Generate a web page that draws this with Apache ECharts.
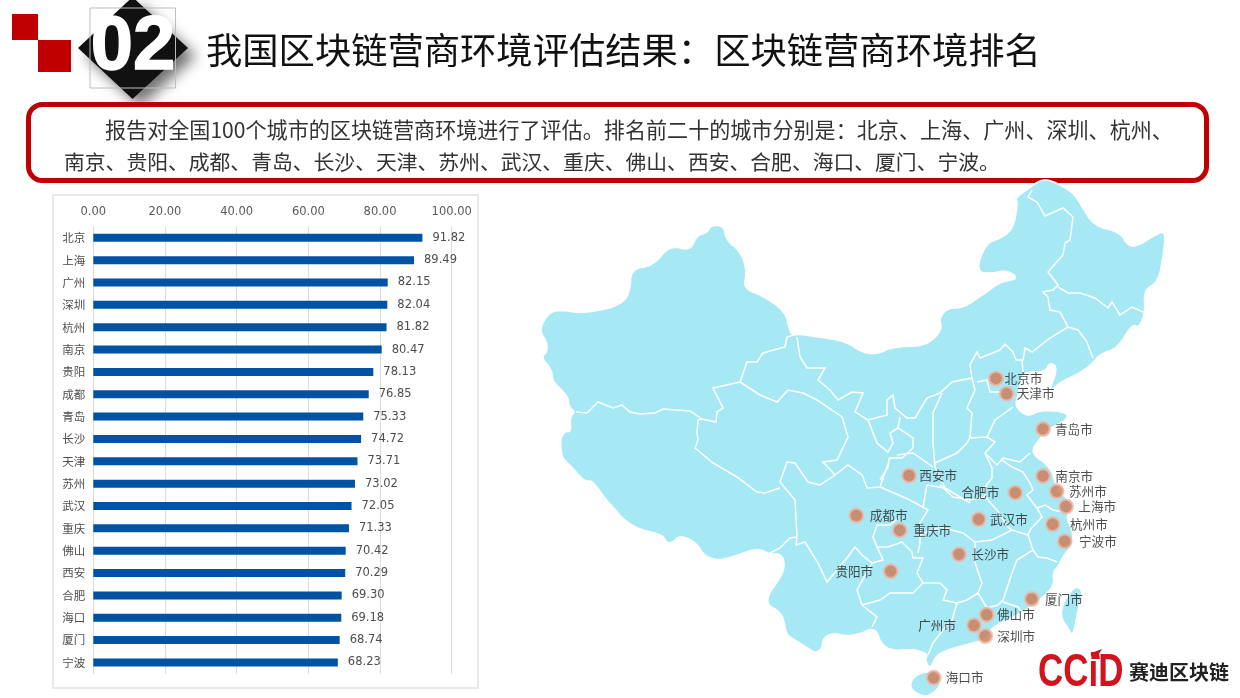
<!DOCTYPE html>
<html>
<head>
<meta charset="utf-8">
<title>区块链营商环境排名</title>
<script src="https://cdn.jsdelivr.net/npm/echarts@6/dist/echarts.min.js"></script>
<style>
  html,body{margin:0;padding:0;background:#fff}
  #chart{width:1240px;height:698px}
</style>
</head>
<body>
<div id="chart"></div>
<script>
// bar chart data
var categories = ['北京','上海','广州','深圳','杭州','南京','贵阳','成都','青岛','长沙','天津','苏州','武汉','重庆','佛山','西安','合肥','海口','厦门','宁波']
var scores = [91.82,89.49,82.15,82.04,81.82,80.47,78.13,76.85,75.33,74.72,73.71,73.02,72.05,71.33,70.42,70.29,69.30,69.18,68.74,68.23]

// cities on the map, read in the units of the traced base map below
var cityNames = ['北京市','天津市','青岛市','西安市','成都市','重庆市','长沙市','贵阳市','广州市','海口市','南京市','苏州市','上海市','杭州市','宁波市','合肥市','武汉市','厦门市','佛山市','深圳市']
var cityX = [996,1006.7,1043,909,856.3,899.7,959,890.7,974,933.7,1043,1056.7,1066,1052.7,1064.7,1015.3,978.7,1031.7,986.7,985.3]
var cityY = [378.5,393.7,429,475.5,515.5,530.3,554.3,571.3,625.3,677.7,476,491.3,506.5,524.3,541.3,492.7,519.3,599,614.7,636]

var titleText = '我国区块链营商环境评估结果：区块链营商环境排名'
var introLine1 = '报告对全国100个城市的区块链营商环境进行了评估。排名前二十的城市分别是：北京、上海、广州、深圳、杭州、'
var introLine2 = '南京、贵阳、成都、青岛、长沙、天津、苏州、武汉、重庆、佛山、西安、合肥、海口、厦门、宁波。'

// base map outline, hand traced
var mainland = [[539,330],[549,312],[563,310],[577,313],[597,311],[620,305],[630,293],[631,269],[653,266],[670,245],[690,251],[697,235],[707,233],[711,225],[724,226],[726,240],[741,252],[747,272],[743,288],[763,296],[785,311],[790,332],[793,335],[798,334],[818,337],[845,341],[863,353],[878,354],[892,347],[923,346],[935,338],[942,328],[939,318],[948,308],[963,308],[987,292],[1000,282],[1019,279],[1007,270],[993,273],[980,273],[978,263],[987,243],[997,240],[1013,230],[1018,203],[1015,198],[1028,189],[1040,180],[1051,180],[1073,192],[1081,205],[1094,226],[1120,232],[1128,246],[1138,246],[1153,236],[1166,230],[1163,258],[1158,282],[1144,290],[1145,313],[1139,328],[1132,324],[1118,348],[1100,354],[1093,363],[1080,373],[1060,382],[1048,394],[1058,368],[1050,362],[1045,372],[1023,372],[1020,385],[1018,395],[1015,407],[1028,417],[1040,410],[1068,412],[1066,421],[1050,428],[1040,438],[1030,453],[1051,467],[1056,487],[1066,498],[1074,508],[1068,513],[1067,519],[1073,533],[1073,545],[1063,556],[1058,567],[1053,572],[1054,586],[1041,599],[1020,614],[990,628],[988,639],[973,643],[953,648],[940,653],[935,658],[930,669],[925,660],[928,654],[913,649],[893,651],[881,644],[877,631],[870,629],[860,634],[847,636],[833,633],[823,638],[822,649],[815,653],[808,648],[793,639],[786,634],[784,620],[779,611],[767,605],[769,593],[779,580],[785,567],[782,554],[770,554],[757,548],[730,558],[717,560],[704,556],[697,543],[680,535],[672,543],[667,543],[663,536],[655,533],[636,528],[622,518],[614,508],[607,501],[592,480],[585,482],[569,464],[562,458],[560,440],[565,431],[571,432],[570,417],[575,412],[569,407],[568,396],[552,381],[552,370],[541,357],[547,352],[547,342]]
var taiwan = [[1077,586],[1083,592],[1078,610],[1073,637],[1068,628],[1061,618],[1062,605],[1071,591]]
var hainan = [[925,671],[912,678],[910,689],[922,696],[929,696],[941,686],[939,674]]

// province borders
var borderLines = [
  [[576,412],[587,413],[598,402],[613,408],[622,405],[630,412],[640,414],[655,413],[663,409],[690,411],[702,419],[716,422],[717,412],[723,408],[713,388],[740,382],[747,362],[757,362],[763,353],[785,347],[787,337],[797,334]],
  [[702,419],[698,420],[697,433],[698,440],[695,448],[713,463],[737,477],[757,492],[765,493],[780,488]],
  [[780,482],[787,462],[795,463],[808,482],[820,485],[835,475],[848,465],[862,475],[867,488],[880,487]],
  [[740,382],[760,395],[777,402],[788,390],[803,393],[817,400],[842,417],[848,437],[837,460],[823,462],[835,475]],
  [[780,482],[795,500],[797,537],[790,538],[780,548],[770,553]],
  [[797,537],[796,545],[805,542],[818,563],[827,582],[847,558],[855,547],[862,555],[872,563],[857,590],[862,605]],
  [[862,605],[880,600],[890,593],[913,593],[923,583],[917,573],[923,558],[913,558],[912,552],[902,542],[888,547],[877,547],[873,537],[877,525],[890,525],[898,518]],
  [[872,563],[883,560],[877,547]],
  [[880,487],[887,490],[910,500],[928,510],[920,523],[920,543],[918,553]],
  [[880,487],[890,458],[902,458],[913,448],[913,438],[898,428],[890,433],[893,443],[888,452],[877,443],[868,420],[855,412],[863,393],[852,392],[838,400],[830,390],[818,380],[825,368],[807,368],[800,357],[797,337]],
  [[868,420],[887,415],[887,400],[893,395],[895,408],[907,418],[915,418],[927,398],[940,393]],
  [[898,428],[900,417]],
  [[942,393],[933,413],[933,443],[935,467],[945,488],[970,503]],
  [[935,463],[957,453],[967,443],[970,437],[972,413],[967,408],[975,390],[972,378],[952,382],[940,393]],
  [[972,378],[970,365],[977,352],[980,358],[1000,350],[1005,344],[1013,352],[1016,360],[1023,360],[1025,348],[1032,352],[1050,338],[1068,327],[1060,312],[1050,310],[1048,297],[1043,292],[1053,290],[1058,285],[1048,272],[1063,255],[1065,243],[1070,240],[1073,217],[1063,208],[1045,216],[1037,202],[1028,197],[1032,190]],
  [[1058,287],[1068,293],[1080,293],[1095,298],[1108,308],[1112,302],[1120,315],[1132,307],[1143,312]],
  [[1068,327],[1078,330],[1087,342],[1093,358]],
  [[1022,360],[1023,372]],
  [[977,382],[987,380],[990,392],[1005,392]],
  [[1013,407],[995,420],[987,437],[970,438]],
  [[987,437],[995,442],[985,453],[997,465],[1003,458],[1020,462],[1030,453]],
  [[985,453],[992,468],[992,478],[985,487],[985,497],[997,510],[1008,527],[1012,530]],
  [[940,485],[953,497],[970,500],[985,497]],
  [[1002,460],[1012,467],[1023,472],[1030,483],[1033,490],[1027,495],[1037,508],[1045,505],[1053,510],[1063,512]],
  [[1037,508],[1042,517],[1030,530],[1028,535]],
  [[920,535],[940,527],[963,533],[975,542],[992,540],[1012,530],[1028,535]],
  [[975,542],[975,563],[982,583],[978,593]],
  [[1028,535],[1033,550],[1017,560],[1012,573],[1003,600],[998,605],[987,608],[978,593]],
  [[1033,550],[1038,557],[1047,558],[1057,562]],
  [[1003,602],[1018,607],[1022,613]],
  [[923,583],[940,583],[947,590],[943,600],[957,603],[967,600],[978,593]],
  [[957,603],[952,620],[943,630],[933,643],[928,655]],
  [[862,605],[877,617],[872,627]],
  [[889,458],[888,467],[880,480]],
  [[897,455],[913,453],[933,467]],
  [[927,485],[938,487],[945,488]],
  [[927,485],[923,507],[928,510]]
]

// rounds off the traced corners
function chaikin(pts,times){
  var out=pts
  for(var t=0;t<times;t++){
    var next=[]
    var n=out.length
    for(var i=0;i<n;i++){
      var a=out[i],b=out[(i+1)%n]
      next.push([a[0]*0.75+b[0]*0.25,a[1]*0.75+b[1]*0.25])
      next.push([a[0]*0.25+b[0]*0.75,a[1]*0.25+b[1]*0.75])
    }
    out=next
  }
  return out
}
function ring(pts){
  var r=chaikin(pts,2)
  return r.concat([r[0]])
}

var landRings=[ring(mainland),ring(taiwan),ring(hainan)]

echarts.registerMap('cn',{
  type:'FeatureCollection',
  features:[
    {type:'Feature',properties:{name:'land'},geometry:{type:'MultiPolygon',coordinates:landRings.map(function(r){return [r]})}},
    {type:'Feature',properties:{name:'borders'},geometry:{type:'MultiLineString',coordinates:borderLines}}
  ]
})

// the geo box has to equal the base map bounds so map units stay 1:1 with the page
var minX=Infinity,minY=Infinity,maxX=-Infinity,maxY=-Infinity
landRings.concat(borderLines).forEach(function(r){
  r.forEach(function(p){
    minX=Math.min(minX,p[0]);maxX=Math.max(maxX,p[0])
    minY=Math.min(minY,p[1]);maxY=Math.max(maxY,p[1])
  })
})

// label side and gap for each city dot
var labelSpots = {
  '北京市':['right',0.5],'天津市':['right',2],'青岛市':['right',4],'西安市':['right',2.3],'成都市':['right',5.4],
  '重庆市':['right',5.6],'长沙市':['right',4.3],'贵阳市':['left',9.5],'广州市':['left',10],'海口市':['right',4],
  '南京市':['right',4.3],'苏州市':['right',4.3],'上海市':['right',4.3],'杭州市':['right',9.3],'宁波市':['right',6.3],
  '合肥市':['left',8],'武汉市':['right',3.3],'厦门市':['right',5.3],'佛山市':['right',2.3],'深圳市':['right',4]
}

var cityData = cityNames.map(function(name,i){
  return {
    name:name,
    value:[cityX[i],cityY[i]],
    label:{position:labelSpots[name][0],distance:labelSpots[name][1]}
  }
})

var numFont='"DejaVu Sans","Noto Sans CJK SC",sans-serif'
var cjkFont='"Noto Sans CJK SC",sans-serif'

var chart=echarts.init(document.getElementById('chart'))
chart.setOption({
  animation:false,
  backgroundColor:'#fff',
  grid:{left:93.3,top:226.6,width:358.4,height:447},
  xAxis:{
    type:'value',position:'top',min:0,max:100,interval:20,
    axisLine:{show:false},axisTick:{show:false},
    axisLabel:{color:'#595959',fontSize:11.5,fontFamily:numFont,margin:9,formatter:function(v){return v.toFixed(2)}},
    splitLine:{lineStyle:{color:'#dcdcdc',width:1}}
  },
  yAxis:{
    type:'category',inverse:true,data:categories,
    axisLine:{show:true,lineStyle:{color:'#d9d9d9'}},axisTick:{show:false},
    axisLabel:{color:'#4d4d4d',fontSize:11.5,fontFamily:cjkFont,margin:8}
  },
  geo:{
    map:'cn',
    projection:{project:function(p){return p},unproject:function(p){return p}},
    left:minX,top:minY,width:maxX-minX,height:maxY-minY,
    silent:true,
    label:{show:false},
    itemStyle:{areaColor:'#a7e8f5',borderColor:'#ffffff',borderWidth:1.5},
    emphasis:{disabled:true}
  },
  series:[
    {
      type:'bar',data:scores,barWidth:8,
      itemStyle:{color:'#0053a4'},
      label:{show:true,position:'right',distance:10,color:'#4d4d4d',fontSize:11.5,fontFamily:numFont,formatter:function(p){return p.value.toFixed(2)}},
      silent:true
    },
    {
      type:'scatter',coordinateSystem:'geo',data:cityData,
      symbol:'circle',symbolSize:13.7,
      itemStyle:{color:'#cf7753',borderColor:'#e9bcab',borderWidth:2.3},
      label:{show:true,formatter:'{b}',color:'#222',fontSize:12.6,fontFamily:cjkFont},
      labelLayout:{hideOverlap:false},
      silent:true,z:5
    }
  ],
  graphic:{elements:[
    {type:'rect',shape:{x:53,y:195,width:425,height:493},style:{fill:'none',stroke:'#e8e8e8',lineWidth:2},z:-1},
    {type:'rect',shape:{x:12,y:14,width:26,height:26},style:{fill:'#c00000'}},
    {type:'rect',shape:{x:38,y:40,width:33,height:32},style:{fill:'#c00000'}},
    {type:'polygon',shape:{points:[[132.5,-3],[188,48],[132.5,99],[78,48]]},style:{fill:'#111111',shadowBlur:14,shadowColor:'rgba(0,0,0,0.55)',shadowOffsetX:8,shadowOffsetY:8}},
    {type:'rect',shape:{x:90,y:8,width:85.5,height:80},style:{fill:'none',stroke:'#bdbdbd',lineWidth:1}},
    {type:'text',style:{x:133,y:48,text:'02',align:'center',verticalAlign:'middle',font:'bold 76px "Liberation Sans",sans-serif',fill:'#ffffff',stroke:'#ffffff',lineWidth:1.5}},
    {type:'text',style:{x:206,y:50,text:titleText,align:'left',verticalAlign:'middle',font:'36.3px '+cjkFont,fill:'#111111'}},
    {type:'rect',shape:{x:28.5,y:104.5,width:1178,height:76,r:14},style:{fill:'#ffffff',stroke:'#c00000',lineWidth:5}},
    {type:'text',style:{x:105,y:129.5,text:introLine1,align:'left',verticalAlign:'middle',font:'21.08px '+cjkFont,fill:'#333333'}},
    {type:'text',style:{x:64,y:162,text:introLine2,align:'left',verticalAlign:'middle',font:'20.8px '+cjkFont,fill:'#333333'}},
    {type:'text',x:1038,y:673,scaleX:0.76,style:{x:0,y:0,text:'CCiD',align:'left',verticalAlign:'middle',font:'bold 46px "Liberation Sans",sans-serif',fill:'#d2141e'}},
    {type:'polygon',shape:{points:[[1091,659],[1094,652],[1102,649],[1099,654],[1100,659]]},style:{fill:'#d2141e'}},
    {type:'text',style:{x:1129,y:672,text:'赛迪区块链',align:'left',verticalAlign:'middle',font:'bold 20px '+cjkFont,fill:'#222222'}}
  ]}
})
</script>
</body>
</html>
